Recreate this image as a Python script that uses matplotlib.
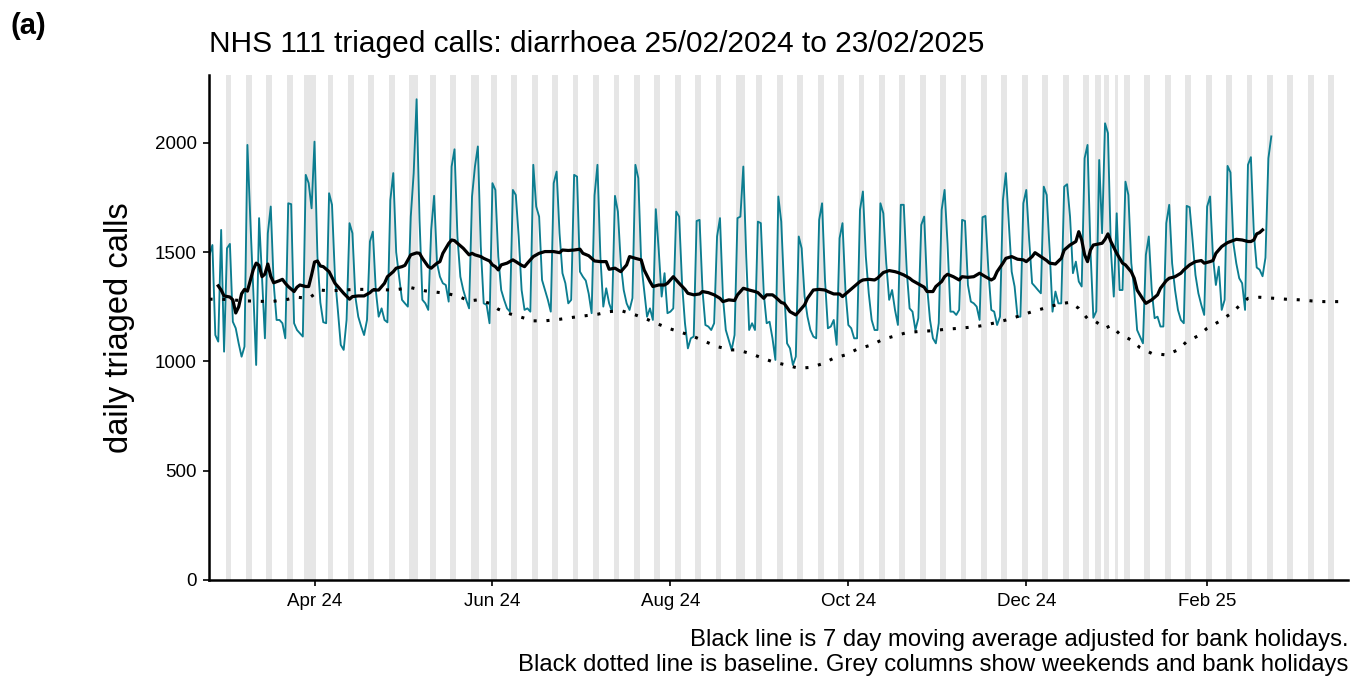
import numpy as np
import pandas as pd
import matplotlib
matplotlib.use('Agg')
import matplotlib.pyplot as plt
import matplotlib.dates as mdates

plt.rcParams['font.family'] = ['Liberation Sans', 'DejaVu Sans']

# daily triaged calls, first value is Sun 25/02/2024, then one row per week (Mon..Sun)
first_day = [1488]
weeks = [
    [1533, 1121, 1091, 1602, 1045, 1518, 1538],
    [1182, 1152, 1083, 1022, 1068, 1991, 1648],
    [1327, 984, 1656, 1388, 1106, 1587, 1709],
    [1358, 1190, 1190, 1175, 1106, 1724, 1720],
    [1175, 1144, 1129, 1114, 1854, 1816, 1701],
    [2006, 1480, 1270, 1180, 1175, 1770, 1717],
    [1388, 1236, 1076, 1053, 1190, 1633, 1587],
    [1297, 1205, 1160, 1121, 1190, 1549, 1594],
    [1327, 1205, 1243, 1190, 1179, 1739, 1862],
    [1500, 1388, 1282, 1266, 1251, 1663, 1862],
    [2200, 1650, 1282, 1266, 1236, 1602, 1758],
    [1450, 1388, 1358, 1350, 1274, 1892, 1971],
    [1570, 1388, 1327, 1282, 1243, 1755, 1892],
    [1984, 1526, 1266, 1259, 1175, 1816, 1785],
    [1480, 1327, 1282, 1243, 1228, 1785, 1762],
    [1572, 1327, 1236, 1243, 1228, 1900, 1709],
    [1663, 1373, 1327, 1282, 1228, 1816, 1869],
    [1587, 1404, 1358, 1266, 1282, 1854, 1846],
    [1411, 1388, 1370, 1310, 1221, 1760, 1900],
    [1480, 1251, 1335, 1266, 1228, 1758, 1686],
    [1449, 1327, 1266, 1236, 1290, 1900, 1839],
    [1449, 1327, 1205, 1243, 1190, 1697, 1510],
    [1297, 1404, 1221, 1228, 1243, 1686, 1663],
    [1358, 1175, 1060, 1106, 1114, 1643, 1648],
    [1327, 1167, 1160, 1144, 1175, 1572, 1656],
    [1297, 1144, 1098, 1053, 1121, 1656, 1663],
    [1892, 1480, 1144, 1175, 1144, 1640, 1633],
    [1312, 1175, 1182, 1106, 1007, 1755, 1640],
    [1327, 1083, 1060, 984, 1022, 1572, 1518],
    [1297, 1205, 1144, 1114, 1106, 1648, 1724],
    [1373, 1152, 1160, 1190, 1076, 1564, 1633],
    [1327, 1167, 1152, 1106, 1106, 1694, 1778],
    [1480, 1312, 1190, 1144, 1144, 1724, 1678],
    [1449, 1282, 1327, 1236, 1167, 1717, 1717],
    [1419, 1243, 1228, 1144, 1198, 1625, 1663],
    [1343, 1190, 1106, 1083, 1175, 1694, 1785],
    [1541, 1228, 1228, 1213, 1236, 1648, 1643],
    [1350, 1274, 1266, 1251, 1190, 1660, 1666],
    [1419, 1236, 1228, 1167, 1205, 1739, 1862],
    [1633, 1411, 1343, 1205, 1205, 1724, 1785],
    [1556, 1358, 1343, 1327, 1312, 1800, 1762],
    [1510, 1228, 1320, 1266, 1266, 1800, 1811],
    [1663, 1404, 1457, 1366, 1343, 1930, 1991],
    [1510, 1200, 1230, 1922, 1587, 2090, 2045],
    [1510, 1297, 1678, 1327, 1327, 1823, 1762],
    [1450, 1327, 1144, 1114, 1083, 1488, 1572],
    [1327, 1198, 1205, 1160, 1160, 1633, 1717],
    [1449, 1327, 1236, 1190, 1175, 1712, 1706],
    [1556, 1396, 1312, 1259, 1213, 1709, 1755],
    [1480, 1350, 1434, 1236, 1282, 1895, 1865],
    [1541, 1449, 1381, 1358, 1236, 1900, 1935],
    [1590, 1430, 1420, 1390, 1475, 1930, 2030],
]
calls = first_day + [v for w in weeks for v in w]

# 7 day moving average (day offset from 25/02/2024, value)
ma_day = [3, 4, 5, 7, 8, 9, 10, 11, 12, 13, 15, 16, 17, 18, 19, 20, 21, 22, 24, 25, 26, 27, 29, 30, 31, 33, 34, 35,
          36, 37, 38, 39, 41, 43, 44, 46, 48, 49, 51, 53, 55, 56, 58, 60, 61, 63, 64, 66, 67, 69, 71, 72, 73, 75, 76,
          78, 79, 80, 82, 83, 84, 85, 87, 89, 90, 91, 93, 94, 96, 97, 98, 99, 100, 102, 104, 105, 107, 108, 109, 111,
          113, 115, 118, 120, 121, 123, 125, 127, 128, 130, 132, 134, 136, 137, 139, 141, 143, 144, 146, 148, 149,
          151, 152, 154, 156, 157, 159, 161, 163, 164, 166, 168, 169, 171, 173, 175, 176, 178, 180, 181, 183, 185,
          187, 188, 190, 191, 193, 194, 196, 197, 199, 201, 202, 204, 205, 207, 209, 211, 212, 214, 216, 217, 219,
          221, 223, 224, 226, 228, 229, 231, 233, 235, 236, 238, 240, 241, 243, 245, 246, 248, 249, 251, 252, 253,
          255, 257, 258, 260, 262, 264, 266, 268, 269, 270, 272, 273, 275, 277, 279, 280, 282, 283, 285, 287, 288,
          290, 292, 293, 295, 297, 298, 299, 300, 301, 302, 303, 305, 306, 307, 308, 309, 311, 313, 314, 316, 317,
          318, 320, 321, 323, 325, 326, 328, 329, 331, 333, 334, 336, 338, 340, 341, 343, 344, 345, 347, 349, 350,
          352, 354, 356, 357, 358, 359, 360, 361]
ma_val = [1346, 1327, 1300, 1295, 1282, 1222, 1250, 1310, 1330, 1322, 1420, 1450, 1440, 1388, 1400, 1446, 1390, 1360,
          1370, 1376, 1358, 1343, 1320, 1340, 1350, 1343, 1343, 1396, 1455, 1460, 1437, 1434, 1411, 1358, 1343, 1312,
          1285, 1297, 1300, 1300, 1315, 1327, 1327, 1358, 1388, 1411, 1427, 1434, 1440, 1488, 1497, 1495, 1472, 1434,
          1427, 1450, 1457, 1495, 1540, 1556, 1553, 1541, 1518, 1488, 1495, 1488, 1480, 1472, 1460, 1442, 1434, 1419,
          1442, 1450, 1465, 1457, 1440, 1434, 1450, 1480, 1495, 1503, 1503, 1498, 1510, 1508, 1510, 1514, 1495, 1484,
          1460, 1457, 1457, 1422, 1427, 1411, 1442, 1480, 1472, 1465, 1419, 1366, 1343, 1350, 1350, 1358, 1388, 1358,
          1330, 1312, 1305, 1309, 1320, 1315, 1305, 1289, 1274, 1282, 1279, 1305, 1335, 1327, 1320, 1315, 1289, 1305,
          1305, 1295, 1270, 1266, 1228, 1213, 1228, 1259, 1289, 1327, 1330, 1327, 1320, 1309, 1309, 1297, 1320, 1343,
          1366, 1373, 1376, 1373, 1381, 1407, 1416, 1411, 1407, 1396, 1381, 1370, 1355, 1340, 1320, 1320, 1343, 1366,
          1388, 1399, 1388, 1373, 1388, 1385, 1388, 1404, 1388, 1373, 1381, 1411, 1450, 1472, 1480, 1468, 1465, 1457,
          1480, 1498, 1480, 1462, 1450, 1446, 1472, 1510, 1533, 1549, 1594, 1556, 1488, 1457, 1510, 1533, 1538, 1541,
          1559, 1584, 1549, 1495, 1450, 1442, 1410, 1381, 1327, 1285, 1266, 1282, 1305, 1335, 1370, 1381, 1388, 1404,
          1419, 1442, 1457, 1462, 1450, 1457, 1462, 1495, 1526, 1544, 1549, 1559, 1556, 1549, 1549, 1556, 1584, 1590,
          1602]

# baseline (day offset, value)
base_day = [0, 4, 13, 21, 26, 30, 34, 38, 41, 50, 54, 63, 69, 74, 76, 81, 85, 89, 92, 96, 99, 103, 107, 111, 115,
            120, 124, 128, 133, 137, 141, 146, 150, 154, 158, 162, 166, 170, 174, 179, 181, 186, 189, 193, 197, 202,
            206, 210, 214, 218, 222, 227, 231, 235, 239, 243, 248, 252, 257, 261, 265, 270, 274, 278, 282, 286, 291,
            295, 298, 301, 303, 307, 309, 312, 316, 319, 323, 328, 332, 335, 339, 342, 346, 350, 353, 356, 360, 365,
            369, 374, 378, 382, 387]
base_val = [1285, 1285, 1277, 1274, 1282, 1294, 1289, 1327, 1323, 1330, 1330, 1327, 1338, 1323, 1320, 1312, 1300,
            1277, 1282, 1266, 1239, 1218, 1202, 1186, 1186, 1193, 1201, 1208, 1216, 1228, 1233, 1213, 1193, 1170,
            1149, 1132, 1114, 1091, 1068, 1053, 1053, 1034, 1018, 999, 986, 969, 973, 989, 1015, 1030, 1056, 1076,
            1102, 1117, 1132, 1137, 1141, 1147, 1152, 1157, 1164, 1179, 1193, 1210, 1228, 1243, 1262, 1271, 1243,
            1196, 1190, 1152, 1164, 1126, 1098, 1063, 1037, 1030, 1053, 1091, 1118, 1152, 1182, 1218, 1254, 1289,
            1294, 1289, 1285, 1282, 1277, 1274, 1274]

bank_holidays = ['2024-03-29', '2024-04-01', '2024-05-06', '2024-05-27', '2024-08-26',
                 '2024-12-25', '2024-12-26', '2025-01-01']
tick_dates = ['2024-04-01', '2024-06-01', '2024-08-01', '2024-10-01', '2024-12-01', '2025-02-01']

start = pd.Timestamp('2024-02-25')
dates = pd.date_range(start, periods=len(calls), freq='D')
ma_dates = start + pd.to_timedelta(ma_day, unit='D')
base_dates = start + pd.to_timedelta(base_day, unit='D')

x_min = pd.Timestamp('2024-02-24 20:00')
x_max = pd.Timestamp('2025-03-21 07:00')
y_top = 2311

all_days = pd.date_range('2024-02-24', '2025-03-22', freq='D')
grey_days = [d for d in all_days if d.dayofweek >= 5] + list(pd.to_datetime(bank_holidays))

fig = plt.figure(figsize=(13.5, 6.79), dpi=100)
ax = fig.add_axes([209 / 1350, 1 - 580 / 679, (1348 - 209) / 1350, (580 - 75) / 679])

ax.bar(grey_days, [y_top] * len(grey_days), width=1.0, color='#E6E6E6', linewidth=0, zorder=0)
ax.plot(dates, calls, color='#0C7D90', lw=1.35, zorder=2)
ax.plot(ma_dates, ma_val, color='black', lw=2.3, zorder=3)
ax.plot(base_dates, base_val, color='black', lw=2.2, dashes=(1, 3.2), dash_capstyle='butt', zorder=3)

ax.set_xlim(x_min, x_max)
ax.set_ylim(0, y_top)
ax.set_yticks([0, 500, 1000, 1500, 2000])
ax.set_xticks(pd.to_datetime(tick_dates))
ax.xaxis.set_major_formatter(mdates.DateFormatter('%b %y'))

for s in ['top', 'right']:
    ax.spines[s].set_visible(False)
for s in ['left', 'bottom']:
    ax.spines[s].set_linewidth(1.8)
ax.tick_params(axis='both', length=4, width=1.2, labelsize=13.5, colors='black', pad=5)
ax.set_ylabel('daily triaged calls', fontsize=23.5, labelpad=14)

fig.text(209 / 1350, 1 - 44 / 679, 'NHS 111 triaged calls: diarrhoea 25/02/2024 to 23/02/2025',
         fontsize=21.5, ha='left', va='center')
fig.text(10 / 1350, 1 - 26 / 679, '(a)', fontsize=21, fontweight='bold', ha='left', va='center')
fig.text(1348 / 1350, 1 - 640 / 679, 'Black line is 7 day moving average adjusted for bank holidays.',
         fontsize=17.2, ha='right', va='center')
fig.text(1348 / 1350, 1 - 665 / 679,
         'Black dotted line is baseline. Grey columns show weekends and bank holidays',
         fontsize=17.2, ha='right', va='center')

fig.savefig('out.png', dpi=100)
